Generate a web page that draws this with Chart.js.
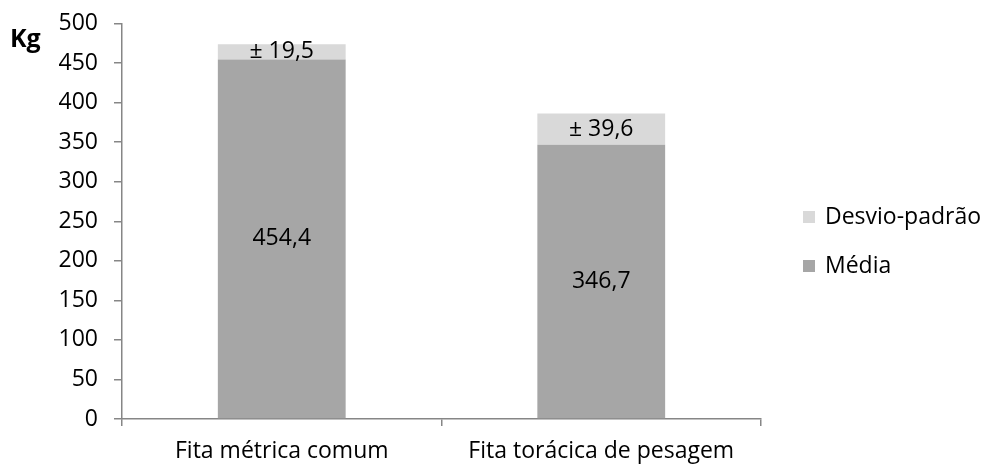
<!DOCTYPE html>
<html>
<head>
<meta charset="utf-8">
<script src="https://cdn.jsdelivr.net/npm/chart.js@4/dist/chart.umd.min.js"></script>
<style>
html,body{margin:0;padding:0;background:#fff;}
#wrap{width:982px;height:466px;position:relative;}
</style>
</head>
<body>
<div id="wrap"><canvas id="c" width="982" height="466"></canvas></div>
<script>
const categories = ['Fita métrica comum', 'Fita torácica de pesagem'];
const mediaValues = [454.4, 346.7];
const desvioValues = [19.5, 39.6];
const mediaLabels = ['454,4', '346,7'];
const desvioLabels = ['± 19,5', '± 39,6'];
const yTicks = [0, 50, 100, 150, 200, 250, 300, 350, 400, 450, 500];

const FONT = "'Open Sans', sans-serif";
const FS = 23;
const AXIS = '#868686';

const labelPlugin = {
  id: 'labels',
  afterDatasetsDraw(chart) {
    const ctx = chart.ctx;
    ctx.save();
    ctx.font = FS + 'px ' + FONT;
    ctx.fillStyle = '#000';
    ctx.textAlign = 'center';
    ctx.textBaseline = 'middle';
    chart.data.datasets.forEach((ds, di) => {
      const meta = chart.getDatasetMeta(di);
      meta.data.forEach((el, i) => {
        const y = (el.y + el.base) / 2;
        ctx.fillText(ds.valueLabels[i], el.x, y);
      });
    });
    // Kg title
    ctx.font = 'bold 25px ' + FONT;
    ctx.textAlign = 'left';
    ctx.fillText('Kg', 10, 40);
    // legend (reversed order)
    ctx.font = FS + 'px ' + FONT;
    const items = chart.data.datasets.slice().reverse();
    items.forEach((ds, k) => {
      const cy = 217 + k * 49;
      ctx.fillStyle = ds.backgroundColor;
      ctx.fillRect(803, cy - 6, 12, 12);
      ctx.fillStyle = '#000';
      ctx.fillText(ds.label, 825, cy);
    });
    ctx.restore();
  }
};

new Chart(document.getElementById('c'), {
  type: 'bar',
  data: {
    labels: categories,
    datasets: [
      { label: 'Média', data: mediaValues, backgroundColor: '#a6a6a6', valueLabels: mediaLabels,
        barPercentage: 0.8, categoryPercentage: 0.5 },
      { label: 'Desvio-padrão', data: desvioValues, backgroundColor: '#d9d9d9', valueLabels: desvioLabels,
        barPercentage: 0.8, categoryPercentage: 0.5 }
    ]
  },
  options: {
    responsive: false,
    animation: false,
    events: [],
    layout: { padding: { left: 0, right: 221, top: 23.5, bottom: 0 } },
    plugins: { legend: { display: false }, tooltip: { enabled: false } },
    scales: {
      x: {
        stacked: true,
        grid: { display: true, drawOnChartArea: false, drawTicks: true, tickLength: 7, color: AXIS, lineWidth: 1.5, offset: true },
        border: { display: true, color: AXIS, width: 1.5 },
        ticks: { color: '#000', font: { family: FONT, size: FS }, padding: 12, maxRotation: 0 },
        afterFit(s) { s.height = 466 - 419; s.paddingLeft = 0; s.paddingRight = 0; }
      },
      y: {
        stacked: true,
        min: 0, max: 500,
        afterBuildTicks(s) { s.ticks = yTicks.map(v => ({ value: v })); },
        grid: { display: true, drawOnChartArea: false, drawTicks: true, tickLength: 8, color: AXIS, lineWidth: 1.5 },
        border: { display: true, color: AXIS, width: 1.5 },
        ticks: { color: '#000', font: { family: FONT, size: FS }, padding: 16 },
        afterFit(s) { s.width = 122; s.paddingTop = 0; s.paddingBottom = 0; }
      }
    }
  },
  plugins: [labelPlugin]
});
</script>
</body>
</html>
